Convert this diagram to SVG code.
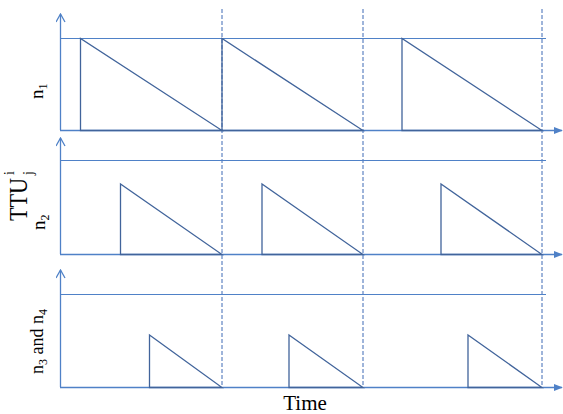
<svg xmlns="http://www.w3.org/2000/svg" width="563" height="414" viewBox="0 0 563 414">
  <style>
    .axis { stroke: #4F81C7; stroke-width: 1.3; fill: none; }
    .level { stroke: #4F81C7; stroke-width: 1.2; fill: none; }
    .tri { stroke: #41649B; stroke-width: 1.3; fill: none; }
    .grid { stroke: #3F6BB5; stroke-width: 1; stroke-dasharray: 4 2; fill: none; }
    .lbl { font-family: "Liberation Serif", "Times New Roman", serif; fill: #000; }
  </style>
  <defs>
    <marker id="open" viewBox="0 0 10 10" refX="9" refY="5" markerWidth="10" markerHeight="10" markerUnits="userSpaceOnUse" orient="auto">
      <path d="M1,0.5 L9,5 L1,9.5" fill="none" stroke="#4F81C7" stroke-width="1.3"/>
    </marker>
    <marker id="solid" viewBox="0 0 10 10" refX="9" refY="5" markerWidth="9" markerHeight="9" markerUnits="userSpaceOnUse" orient="auto">
      <path d="M0,1 L10,5 L0,9 Z" fill="#4F81C7"/>
    </marker>
  </defs>

  <!-- time grid -->
  <g id="grid">
    <line class="grid" x1="222" y1="9" x2="222" y2="388"/>
    <line class="grid" x1="363" y1="9" x2="363" y2="388"/>
    <line class="grid" x1="542" y1="9" x2="542" y2="388"/>
  </g>

  <!-- axes and levels -->
  <g id="connectors">
    <line class="axis" x1="60.5" y1="130" x2="60.5" y2="14" marker-end="url(#open)"/>
    <line class="axis" x1="60.5" y1="254" x2="60.5" y2="138" marker-end="url(#open)"/>
    <line class="axis" x1="60.5" y1="387" x2="60.5" y2="270" marker-end="url(#open)"/>
    <line class="axis" x1="60" y1="130.5" x2="562" y2="130.5" marker-end="url(#solid)"/>
    <line class="axis" x1="60" y1="254.5" x2="562" y2="254.5" marker-end="url(#solid)"/>
    <line class="axis" x1="60" y1="387.5" x2="562" y2="387.5" marker-end="url(#solid)"/>
    <line class="level" x1="60" y1="38.5" x2="546" y2="38.5"/>
    <line class="level" x1="60" y1="160.5" x2="546" y2="160.5"/>
    <line class="level" x1="60" y1="294.5" x2="546" y2="294.5"/>
  </g>

  <!-- n1 countdowns -->
  <g id="n1">
    <path class="tri" d="M80.5,38.5 V130.5 H222 Z"/>
    <path class="tri" d="M222,38.5 V130.5 H363 Z"/>
    <path class="tri" d="M402,38.5 V130.5 H542 Z"/>
  </g>

  <!-- n2 countdowns -->
  <g id="n2">
    <path class="tri" d="M120.5,184 V254.5 H222 Z"/>
    <path class="tri" d="M262,184 V254.5 H363 Z"/>
    <path class="tri" d="M441,184 V254.5 H542 Z"/>
  </g>

  <!-- n3 and n4 countdowns -->
  <g id="n3n4">
    <path class="tri" d="M149.5,335 V387.5 H222 Z"/>
    <path class="tri" d="M289,335 V387.5 H363 Z"/>
    <path class="tri" d="M468,335 V387.5 H542 Z"/>
  </g>

  <!-- labels -->
  <g id="labels">
    <text class="lbl" font-size="19" transform="translate(43,99) rotate(-90)">n<tspan font-size="12" dy="4">1</tspan></text>
    <text class="lbl" font-size="19" transform="translate(45,230) rotate(-90)">n<tspan font-size="12" dy="4">2</tspan></text>
    <text class="lbl" font-size="18" transform="translate(43,374) rotate(-90)">n<tspan font-size="12" dy="4">3</tspan><tspan dy="-4"> and n</tspan><tspan font-size="12" dy="4">4</tspan></text>
    <g transform="translate(27,221) rotate(-90)">
      <text class="lbl" font-size="26" textLength="43" lengthAdjust="spacingAndGlyphs">TTU</text>
      <text class="lbl" font-size="14" x="46" y="-13">i</text>
      <text class="lbl" font-size="14" x="46" y="6">j</text>
    </g>
    <text class="lbl" font-size="21" x="305" y="410" text-anchor="middle">Time</text>
  </g>
</svg>
